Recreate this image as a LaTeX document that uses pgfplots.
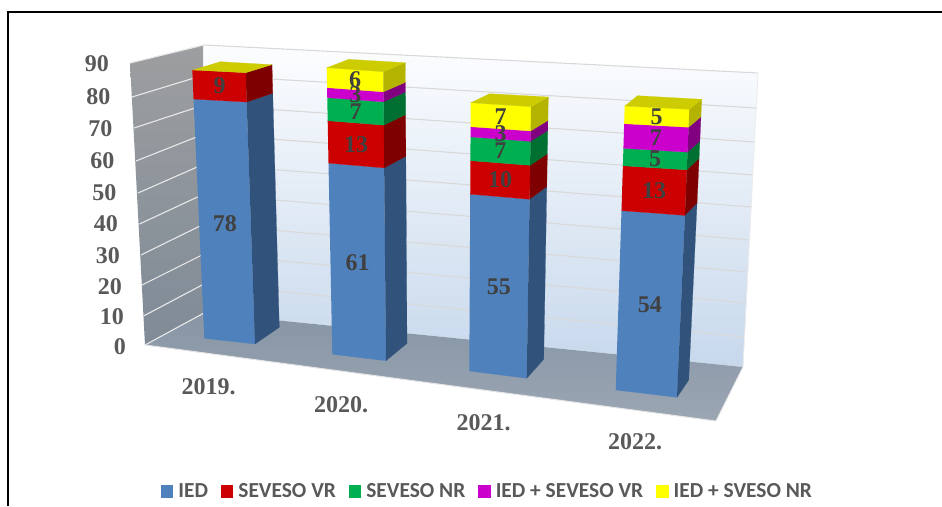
\documentclass[border=0pt]{standalone}
\usepackage{fontspec}
\setmainfont{Liberation Serif}
\newfontfamily\legfont{Carlito}
\usepackage{pgfplots}
\pgfplotsset{compat=1.18}
\definecolor{txt}{HTML}{595959}
\definecolor{lab}{HTML}{404040}
\definecolor{cIED}{HTML}{4F81BD}\definecolor{sIED}{HTML}{30527B}
\definecolor{cVR}{HTML}{CC0000}\definecolor{sVR}{HTML}{7F0000}
\definecolor{cNR}{HTML}{00B050}\definecolor{sNR}{HTML}{006F32}
\definecolor{cIV}{HTML}{CC00CC}\definecolor{sIV}{HTML}{800080}
\definecolor{cIN}{HTML}{FFFF00}\definecolor{sIN}{HTML}{B3B300}
\definecolor{tIN}{HTML}{CCCC00}
\definecolor{gridc}{HTML}{D9D9D9}
% projection of a bar corner c (0 front left, 1 front right, 2 side back, 3 top back) at value v
\def\mk#1#2,#3,#4,#5;{\def#1##1{(((##1)==0)*#2+((##1)==1)*#3+((##1)==2)*#4+((##1)==3)*#5)}}
\def\PX#1#2{(\XB{#1}+(\XT{#1}-\XB{#1})*(#2)/\T)}
\def\PY#1#2{(\YB{#1}+(\YT{#1}-\YB{#1})*(#2)/\T+14*(#2)/\T*(1-(#2)/\T))}
\newcommand\setbar[5]{\def\T{#1}\mk\XB#2;\mk\YB#3;\mk\XT#4;\mk\YT#5;}
\newcommand\seg[4]{% lower, upper, front colour, side colour
  \addplot[forget plot,mark=none,fill=#3,draw=#3,line width=0.2pt] table[row sep=\\,
    x expr={\PX{\thisrow{c}}{\thisrow{v}}},y expr={\PY{\thisrow{c}}{\thisrow{v}}}]
    {c v\\ 0 #1\\ 1 #1\\ 1 #2\\ 0 #2\\};
  \addplot[forget plot,mark=none,fill=#4,draw=#4,line width=0.2pt] table[row sep=\\,
    x expr={\PX{\thisrow{c}}{\thisrow{v}}},y expr={\PY{\thisrow{c}}{\thisrow{v}}}]
    {c v\\ 1 #1\\ 2 #1\\ 2 #2\\ 1 #2\\};
}
\newcommand\topface[1]{%
  \addplot[forget plot,mark=none,fill=tIN,draw=tIN,line width=0.2pt] table[row sep=\\,
    x expr={\PX{\thisrow{c}}{\thisrow{v}}},y expr={\PY{\thisrow{c}}{\thisrow{v}}}]
    {c v\\ 0 #1\\ 1 #1\\ 2 #1\\ 3 #1\\};
}
\newcommand\lbl[2]{% label text, value height of the middle of the segment
  \addplot[forget plot,draw=none,mark=none,nodes near coords={\textbf{#1}},
    every node near coord/.style={anchor=center,inner sep=0pt,font=\fontsize{24}{24}\selectfont,text=lab}]
    table[row sep=\\,
    x expr={(\PX{0}{\thisrow{v}}+\PX{1}{\thisrow{v}})/2},
    y expr={(\PY{0}{\thisrow{v}}+\PY{1}{\thisrow{v}})/2}]
    {v\\ #2\\};
}
\newcommand\ticklab[3]{\node[anchor=east,inner sep=0pt,text=txt,font=\fontsize{24}{24}\selectfont\bfseries] at (axis cs:#1,#2) {#3};}
\newcommand\yearlab[3]{\node[anchor=center,inner sep=0pt,text=txt,font=\fontsize{24}{24}\selectfont\bfseries] at (axis cs:#1,#2) {#3};}
\newcommand\legimg[1]{\addlegendimage{legend image code/.code={\fill[#1] (0pt,-6.3pt) rectangle (11.5pt,6.3pt);}}}
\begin{document}
\begin{tikzpicture}
\useasboundingbox (0,0) rectangle (942pt,506pt);
\begin{axis}[
  at={(0,0)},anchor=south west,
  scale only axis,width=942pt,height=506pt,
  xmin=0,xmax=942,ymin=0,ymax=506,y dir=reverse,
  hide axis,clip=true,
  legend columns=5,
  legend style={at={(0.5175,0.0296)},anchor=center,draw=none,fill=none,
    font=\legfont\fontsize{21.4}{21.4}\selectfont\bfseries\color{txt},
    /tikz/every even column/.append style={column sep=11pt},
    /tikz/every odd column/.append style={column sep=3.5pt},
    inner sep=0pt,outer sep=0pt},
]
\legimg{cIED}\addlegendentry{IED}
\legimg{cVR}\addlegendentry{SEVESO VR}
\legimg{cNR}\addlegendentry{SEVESO NR}
\legimg{cIV}\addlegendentry{IED + SEVESO VR}
\legimg{cIN}\addlegendentry{IED + SVESO NR}

% frame
\addplot[forget plot,black,line width=1.4pt,mark=none] coordinates {(8,506) (8,12) (942,12)};
% walls and floor
\addplot[forget plot,draw=none,top color={rgb,255:red,252;green,253;blue,255},bottom color={rgb,255:red,199;green,216;blue,236},mark=none]
  coordinates {(203,45) (758,73) (743,367) (204,313)};
\addplot[forget plot,draw=none,top color={rgb,255:red,157;green,158;blue,160},bottom color={rgb,255:red,127;green,139;blue,151},mark=none]
  coordinates {(130,63) (203,45) (204,313) (145,345)};
\addplot[forget plot,draw=none,top color={rgb,255:red,135;green,149;blue,165},bottom color={rgb,255:red,155;green,166;blue,179},mark=none]
  coordinates {(145,345) (204,313) (743,367) (716,421)};
% gridlines, back wall
\foreach \ya/\xb/\yb in {45/758/73,75/756.3/108,105/754.7/142,134/753/175,164/751.3/207,194/749.7/240,224/748/272,254/746.3/303,284/744.7/337}{
  \edef\tmp{\noexpand\addplot[forget plot,gridc,line width=1.1pt,mark=none] coordinates {(204,\ya) (\xb,\yb)};}\tmp
}
% gridlines, side wall
\foreach \xa/\ya/\yb in {130/63/45,132/97/75,134/128/105,136/161/134,138/193/164,139.5/224/194,141/255/224,142/285/254,143.5/316/284,145/345/313}{
  \edef\tmp{\noexpand\addplot[forget plot,gridc!60!white,line width=1.1pt,mark=none] coordinates {(\xa,\ya) (204,\yb)};}\tmp
}
\addplot[forget plot,white!90!black,line width=1pt,mark=none] coordinates {(145,345) (716,421)};
\addplot[forget plot,white!92!black,line width=0.8pt,mark=none] coordinates {(716,421) (743,367) (758,73)};

% 2019
\setbar{87}{204.3,255,279.3,220}{338.3,344,327.3,61.7}{192.3,245.7,272,220}{70,72.7,64.7,61.7}
\seg{0}{78}{cIED}{sIED}\seg{78}{87}{cVR}{sVR}\topface{87}
\lbl{78}{39}\lbl{9}{82.5}
% 2020
\setbar{90}{332.3,386,407,348.3}{354.3,360.7,343.3,59.3}{326.7,383.3,405.3,348.3}{67.7,71.7,62.7,59.3}
\seg{0}{61}{cIED}{sIED}\seg{61}{74}{cVR}{sVR}\seg{74}{81}{cNR}{sNR}\seg{81}{84}{cIV}{sIV}\seg{84}{90}{cIN}{sIN}\topface{90}
\lbl{61}{30.5}\lbl{13}{67.5}\lbl{7}{77.5}\lbl{3}{82.5}\lbl{6}{87}
% 2021
\setbar{82}{469.3,526.7,543.7,489.3}{371,378.3,359.3,93.7}{470.7,531,548.3,489.3}{102.7,106.7,97,93.7}
\seg{0}{55}{cIED}{sIED}\seg{55}{65}{cVR}{sVR}\seg{65}{72}{cNR}{sNR}\seg{72}{75}{cIV}{sIV}\seg{75}{82}{cIN}{sIN}\topface{82}
\lbl{55}{27.5}\lbl{10}{60}\lbl{7}{68.5}\lbl{3}{73.5}\lbl{7}{78.5}
% 2022
\setbar{84}{615.7,677,688.7,637.3}{390,397.3,380,95.7}{624.7,689.3,701.7,637.3}{106,109.3,99.3,95.7}
\seg{0}{54}{cIED}{sIED}\seg{54}{67}{cVR}{sVR}\seg{67}{72}{cNR}{sNR}\seg{72}{79}{cIV}{sIV}\seg{79}{84}{cIN}{sIN}\topface{84}
\lbl{54}{27}\lbl{13}{60.5}\lbl{5}{69.5}\lbl{7}{75.5}\lbl{5}{81.5}

\ticklab{109}{64}{90}\ticklab{110.5}{96.5}{80}\ticklab{112.5}{129}{70}\ticklab{114.5}{161}{60}\ticklab{116.5}{192.5}{50}
\ticklab{118}{223.5}{40}\ticklab{120}{256}{30}\ticklab{122}{286.5}{20}\ticklab{124}{317}{10}\ticklab{126}{347}{0}
\yearlab{208.5}{387}{2019.}\yearlab{341}{405}{2020.}\yearlab{483.5}{423}{2021.}\yearlab{635}{442}{2022.}
\end{axis}
\end{tikzpicture}
\end{document}
